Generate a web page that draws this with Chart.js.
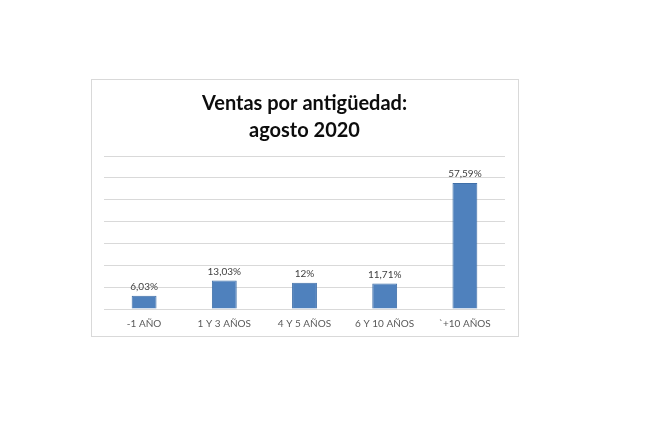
<!DOCTYPE html>
<html>
<head>
<meta charset="utf-8">
<script src="https://cdn.jsdelivr.net/npm/chart.js@4"></script>
<style>
  body { margin: 0; background: #fff; }
  #box {
    position: absolute; left: 91px; top: 79px;
    width: 426px; height: 256px;
    border: 1px solid #d9d9d9; background: #fff;
  }
</style>
</head>
<body>
<div id="box"><canvas id="chart_ventas" width="426" height="256"></canvas></div>
<script>
// data
const categorias = ['-1 AÑO', '1 Y 3 AÑOS', '4 Y 5 AÑOS', '6 Y 10 AÑOS', '`+10 AÑOS'];
const ventas = [6.03, 13.03, 12, 11.71, 57.59];
const etiquetas = ['6,03%', '13,03%', '12%', '11,71%', '57,59%'];
const tituloLineas = ['Ventas por antigüedad:', 'agosto 2020'];

// labels on top of each bar
const barLabels = {
    id: 'barLabels',
    afterDatasetsDraw(chart) {
        const ctx = chart.ctx;
        const meta = chart.getDatasetMeta(0);
        ctx.save();
        ctx.font = '10px Lato, "Liberation Sans", sans-serif';
        ctx.fillStyle = '#404040';
        ctx.textAlign = 'center';
        ctx.textBaseline = 'bottom';
        meta.data.forEach((bar, i) => {
            ctx.fillText(etiquetas[i], bar.x, bar.y - 4);
        });
        ctx.restore();
    }
};

new Chart("chart_ventas", {
    type: 'bar',
    data: {
        labels: categorias,
        datasets: [{
            data: ventas,
            backgroundColor: '#4F81BD',
            borderColor: '#3F6FA8',
            borderWidth: 1,
            categoryPercentage: 1,
            barPercentage: 0.31
        }]
    },
    options: {
        responsive: false,
        animation: false,
        layout: { padding: { left: 12, right: 13, top: 0, bottom: 5 } },
        plugins: {
            legend: { display: false },
            tooltip: { enabled: false },
            title: {
                display: true,
                text: tituloLineas,
                color: '#0d0d0d',
                font: { family: 'Lato, "Liberation Sans", sans-serif', size: 20, weight: 'bold', lineHeight: 1.35 },
                padding: { top: 10, bottom: 12 }
            }
        },
        scales: {
            x: {
                grid: { display: false },
                border: { display: false },
                ticks: {
                    color: '#595959',
                    font: { family: 'Lato, "Liberation Sans", sans-serif', size: 10 },
                    padding: 1,
                    maxRotation: 0,
                    autoSkip: false
                }
            },
            y: {
                min: 0,
                max: 70,
                grid: { color: '#d9d9d9', lineWidth: 1, drawTicks: false },
                border: { display: false },
                ticks: { display: false, stepSize: 10 }
            }
        }
    },
    plugins: [barLabels]
});
</script>
</body>
</html>
